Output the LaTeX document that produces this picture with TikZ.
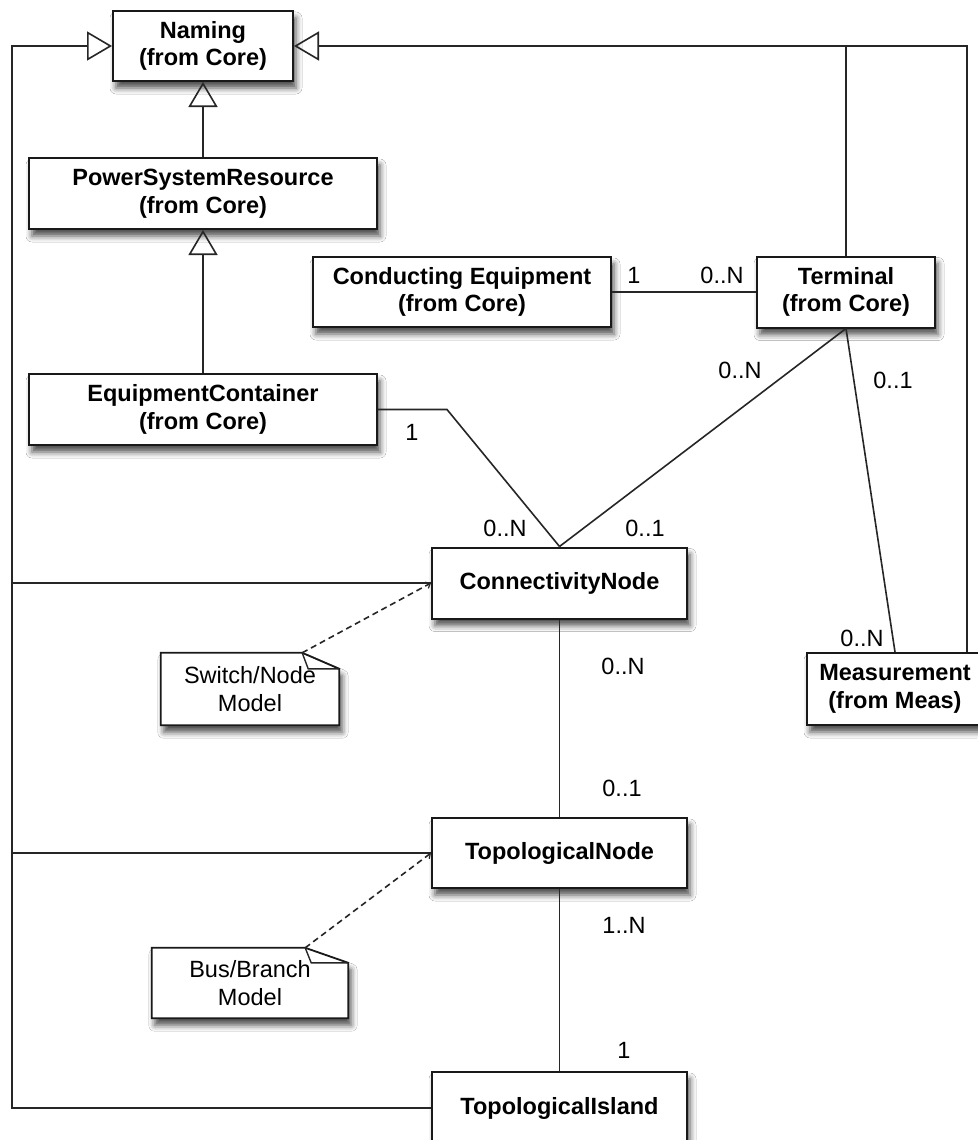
\documentclass[tikz,border=0pt]{standalone}
\usepackage{fontspec}
\setmainfont{Liberation Sans}
\usetikzlibrary{arrows.meta,shadows.blur}
\begin{document}
\begin{tikzpicture}[x=1pt,y=-1pt,
  shade box/.style={blur shadow={shadow xshift=3pt, shadow yshift=-7pt, shadow blur radius=6pt, shadow opacity=70}},
  cls/.style={shade box, draw=black!90, line width=2pt, fill=white, align=center,
    font=\fontsize{23.5}{27.5}\selectfont\bfseries, inner sep=0pt},
  notebox/.style={inner sep=0pt, align=center, font=\fontsize{23.5}{27.5}\selectfont},
  noteline/.style={shade box, draw=black!90, line width=1.8pt, fill=white, line join=miter},
  lbl/.style={font=\fontsize{23.5}{27.5}\selectfont, inner sep=0pt},
  assoc/.style={draw=black!85, line width=1.6pt},
  gen/.style={assoc, -{Triangle[open, length=25pt, width=29pt, line width=1.6pt]}},
  anchorline/.style={draw=black!85, line width=1.6pt, dash pattern=on 6pt off 4pt,
    -{Straight Barb[length=4pt, width=7pt, line width=1.2pt]}}
]
\useasboundingbox (0,0) rectangle (977,1140);
\fill[white] (0,0) rectangle (977,1140);

% classes
\node[cls, minimum width=180pt, minimum height=70pt] (naming) at (203,46) {Naming\\(from Core)};
\node[cls, minimum width=348pt, minimum height=71pt] (psr) at (203,193.5) {PowerSystemResource\\(from Core)};
\node[cls, minimum width=348pt, minimum height=71pt] (ec) at (203,409.5) {EquipmentContainer\\(from Core)};
\node[cls, minimum width=298pt, minimum height=70pt] (ce) at (462,292) {Conducting Equipment\\(from Core)};
\node[cls, minimum width=178pt, minimum height=71pt] (term) at (846,292) {Terminal\\(from Core)};
\node[cls, minimum width=255pt, minimum height=71pt] (cn) at (559.5,583) {ConnectivityNode};
\node[cls, minimum width=176pt, minimum height=72pt] (meas) at (895,689) {Measurement\\(from Meas)};
\node[cls, minimum width=255pt, minimum height=70pt] (tn) at (559.5,853) {TopologicalNode};
\node[cls, minimum width=255pt, minimum height=72pt] (ti) at (559.5,1108) {TopologicalIsland};

% notes
\node[notebox, minimum width=178pt, minimum height=72pt] (n1) at (250,689) {};
\draw[noteline] (n1.north west) -- ([xshift=-37pt]n1.north east) -- ([yshift=-16pt]n1.north east)
  -- (n1.south east) -- (n1.south west) -- cycle;
\draw[assoc, line width=1.4pt] ([xshift=-37pt]n1.north east) -- ([xshift=-31pt,yshift=-16pt]n1.north east) -- ([yshift=-16pt]n1.north east);
\node[notebox] (n1t) at (n1.center) {Switch/Node\\Model};
\coordinate (n1c) at ([xshift=-37pt]n1.north east);

\node[notebox, minimum width=196pt, minimum height=70pt] (n2) at (250,983) {};
\draw[noteline] (n2.north west) -- ([xshift=-43pt]n2.north east) -- ([yshift=-15pt]n2.north east)
  -- (n2.south east) -- (n2.south west) -- cycle;
\draw[assoc, line width=1.4pt] ([xshift=-43pt]n2.north east) -- ([xshift=-37pt,yshift=-15pt]n2.north east) -- ([yshift=-15pt]n2.north east);
\node[notebox] (n2t) at (n2.center) {Bus/Branch\\Model};
\coordinate (n2c) at ([xshift=-43pt]n2.north east);

% helper coordinates
\coordinate (tl) at (12,46);
\coordinate (tr) at (967,46);
\coordinate (ecb) at (447,409.5);

% generalizations
\draw[gen] (psr.north) -- (naming.south);
\draw[gen] (ec.north) -- (psr.south);
\draw[gen] (term.north) |- (naming.east);
\draw[assoc] (meas.north -| tr) |- (term.north |- tr);
\draw[gen] (ti.west) -| (tl) -- (naming.west);
\draw[assoc] (cn.west) -- (cn.west -| tl);
\draw[assoc] (tn.west) -- (tn.west -| tl);

% associations
\draw[assoc] (ce.east) -- (term.west);
\draw[assoc] (ec.east) -- (ecb) -- (cn.north);
\draw[assoc] (term.south) -- (cn.north);
\draw[assoc] (term.south) -- (meas.north);
\draw[assoc] (cn.south) -- (tn.north);
\draw[assoc] (tn.south) -- (ti.north);

% note anchors
\draw[anchorline] (n1c) -- (cn.west);
\draw[anchorline] (n2c) -- (tn.west);

% multiplicities
\node[lbl] (m1) at (634,275) {1};
\node[lbl] (m2) at (722,275) {0..N};
\node[lbl] (m3) at (740,370) {0..N};
\node[lbl] (m4) at (893,380) {0..1};
\node[lbl] (m5) at (412,432) {1};
\node[lbl] (m6) at (505,528) {0..N};
\node[lbl] (m7) at (645,528) {0..1};
\node[lbl] (m8) at (862,638) {0..N};
\node[lbl] (m9) at (623,666) {0..N};
\node[lbl] (m10) at (622,788) {0..1};
\node[lbl] (m11) at (624,925) {1..N};
\node[lbl] (m12) at (624,1050) {1};
\end{tikzpicture}
\end{document}
